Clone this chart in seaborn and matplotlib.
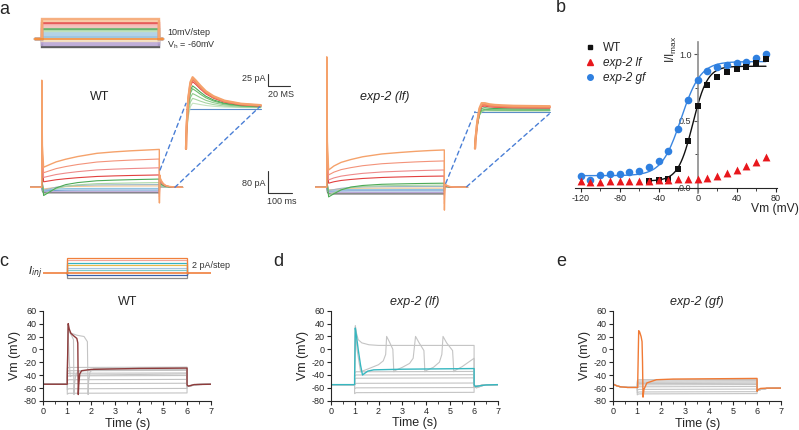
import numpy as np
import pandas as pd
import matplotlib
matplotlib.use("Agg")
import matplotlib.pyplot as plt
import seaborn as sns
from matplotlib.patches import ConnectionPatch
from matplotlib.lines import Line2D

sns.set_theme(style="ticks")
plt.rcParams["font.family"] = ["Liberation Sans", "DejaVu Sans"]
plt.rcParams["axes.linewidth"] = 0.8
plt.rcParams["axes.unicode_minus"] = False

# ------------------------------------------------------------------ data
# ---- panel a : voltage-clamp families (pA, ms) ----
STEP_END = 490
STEP_T = [8, 30, 60, 100, 150, 230, 300, 370, 430, 490]
WT_RISE = [0, 0.13, 0.30, 0.45, 0.60, 0.78, 0.86, 0.92, 0.96, 1.0]
LF_RISE = [0, 0.20, 0.38, 0.52, 0.66, 0.80, 0.87, 0.93, 0.97, 1.0]
DIP_SHAPE = [1.0, 0.75, 0.40, 0.15, 0.05, 0, 0, 0, 0, 0]
TAIL_T = [2, 4, 10, 17, 27, 42, 62, 97]
TAIL_SHAPE = [1, 0.75, 0.5, 0.3, 0.15, 0.07, 0.03, 0]

A_COLORS = ["#F5A26B", "#F3937A", "#EE8A8A", "#E2403F", "#4DAA57", "#A8D5A2",
            "#9DB8C9", "#F2C48D", "#8EC1E0", "#6E9BD1", "#B7A3D3", "#4D4D4D"]
WT_START = [73, 53, 36, 20, 2, 0, 4, 2, -4, -10, -16, -20]
WT_END = [138, 103, 71, 45, 30, 17, 10, 5, -4, -10, -16, -20]
WT_DIP = [0, 0, 0, 0, -32, -26, -14, -8, -6, -3, 0, 0]
WT_SPIKE = [390, 330, 280, 230, 60, 40, 30, 20, 10, 0, 0, 0]
WT_OFF = [-57, -45, -35, -25, -15, -8, -5, -3, 0, 0, 0, 0]
WT_TAIL = [45, 40, 36, 32, 20, 12, 6, 3, 0, 0, 0, 0]

LF_START = [63, 45, 27, 15, -5, -3, 0, -2, -6, -12, -18, -24]
LF_END = [136, 96, 63, 41, 15, 8, 3, -3, -8, -13, -19, -24]
LF_DIP = [0, 0, 0, 0, -30, -25, -12, -8, -4, -2, 0, 0]
LF_SPIKE = [475, 400, 330, 260, 60, 40, 30, 20, 10, 0, 0, 0]
LF_OFF = [-83, -60, -45, -30, -15, -8, -5, -3, 0, 0, 0, 0]
LF_TAIL = [15, 12, 10, 8, 5, 3, 2, 1, 0, 0, 0, 0]

# zoomed tail currents (insets)
IN_T = [0, 0.5, 2, 4, 6, 9, 13, 18, 25, 35, 50, 68]
WT_IN_ONSET = [1, 0.7, 0.3, 0.08, 0, 0, 0, 0, 0, 0, 0, 0]
WT_IN_DECAY = [0, 0.3, 0.7, 0.95, 1.0, 0.88, 0.7, 0.5, 0.32, 0.16, 0.05, 0]
LF_IN_ONSET = [1, 0.8, 0.45, 0.15, 0.03, 0, 0, 0, 0, 0, 0, 0]
LF_IN_DECAY = [0, 0.3, 0.7, 0.95, 1.0, 0.7, 0.45, 0.3, 0.2, 0.1, 0.05, 0]
IN_COLORS = ["#F5A26B", "#F08060", "#E2403F", "#4DAA57", "#6DBB6D", "#8FCB8B",
             "#A8D5A2", "#C5E3BF", "#5B8DC8"]
WT_IN_START = [-85, -85, -85, -85, -85, -85, -85, -85, -3]
WT_IN_PEAK = [64, 60, 55, 46, 40, 30, 20, 10, -3]
WT_IN_FINAL = [6, 5, 4, 3, 2.5, 2, 1, 0.5, -3]
LF_IN_START = [-78, -78, -78, -78, -72, -70, -68, -65, -1.5]
LF_IN_PEAK = [19, 15, 12, 8, 4, 2, 1, 0.5, -1.5]
LF_IN_FINAL = [10, 8, 6, 4, 2, 1, 0.5, 0.3, -1.5]

# voltage protocol (mV)
V_HOLD = -60
V_LEVELS = [40, 30, 20, 10, 0, -10, -20, -30, -40, -50, -70, -80, -90, -100]
V_COLORS = ["#F5A26B", "#F8C9A0", "#E2403F", "#F4B3AE", "#F2BDB8", "#4DAA57",
            "#B9DDB2", "#A9CDE3", "#A9CDE3", "#8DBBDA", "#F3DDB8", "#B7A3D3",
            "#B7A3D3", "#404040"]

# ---- panel b : normalised activation ----
IV_MV = [-120, -110, -100, -90, -80, -70, -60, -50, -40, -30, -20, -10,
         0, 10, 20, 30, 40, 50, 60, 70]
GF_I = [0.088, 0.058, 0.093, 0.100, 0.105, 0.115, 0.127, 0.157, 0.198, 0.275,
        0.44, 0.657, 0.807, 0.872, 0.907, 0.922, 0.932, 0.945, 0.972, 1.0]
LF_I = [0.05, 0.045, 0.045, 0.05, 0.05, 0.053, 0.053, 0.053, 0.058, 0.058,
        0.063, 0.065, 0.065, 0.07, 0.088, 0.108, 0.133, 0.165, 0.195, 0.232]
WT_MV = [-50, -40, -30, -20, -10, 0, 10, 20, 30, 40, 50, 60, 70]
WT_I = [0.053, 0.058, 0.063, 0.138, 0.35, 0.61, 0.77, 0.832, 0.865, 0.89,
        0.905, 0.932, 0.962]
GF_FIT = [0.09, 0.945, -17, 10]     # bottom, top, V1/2, slope
WT_FIT = [0.05, 0.91, -5, 7.5]

# ---- panels c-e : current clamp (s, mV) ----
C_PROTO_LEVELS = [12, 10, 8, 6, 4, 2, -2, -4]
C_PROTO_COLORS = ["#F0803C", "#F2A59B", "#35B3C1", "#E9B949", "#A6C6E0",
                  "#7FCACA", "#3A5FA8", "#8C8C8C"]

C_REST = -54
C_GREY_LEVELS = [-28, -33, -37, -41, -47, -53, -61, -68]
C_G1_T = [0, 1.0, 1.0, 1.03, 1.08, 1.2, 1.26, 1.28, 1.30, 1.35, 1.45, 2.0, 6.0, 6.0, 6.1, 6.4, 7.0]
C_G1_V = [-54, -54, -45, 38, 28, 20, 15, -70, -55, -40, -34, -32, -31, -56, -57, -54.5, -54]
C_G2_T = [0, 1.0, 1.0, 1.03, 1.1, 1.4, 1.7, 1.84, 1.87, 1.89, 1.95, 2.1, 6.0, 6.0, 6.1, 6.4, 7.0]
C_G2_V = [-54, -54, -45, 36, 26, 22, 20, 12, -70, -50, -35, -30, -28, -56, -57, -54.5, -54]
C_G3_T = [0, 1.0, 1.0, 1.03, 1.08, 1.12, 1.2, 6.0, 6.0, 6.1, 6.4, 7.0]
C_G3_V = [-54, -54, -45, 30, -15, -42, -40, -38, -56, -57, -54.5, -54]
C_RED_T = [0, 1.0, 1.0, 1.04, 1.08, 1.15, 1.3, 1.4, 1.44, 1.46, 1.48, 1.52, 1.6, 2.0, 4.0, 6.0, 6.0, 6.05, 6.3, 7.0]
C_RED_V = [-54, -54, -45, 40, 32, 25, 20, 17, 10, -70, -55, -38, -33, -31, -29.5, -29, -55, -57, -54.5, -54]

D_REST = -55
D_GREY_LEVELS = [-35, -40, -45, -53, -60, -67.5]
D_TOP_T = [0, 1.0, 1.0, 1.03, 1.08, 1.15, 1.3, 1.6, 2.0, 6.0, 6.0, 6.1, 6.4, 7.0]
D_TOP_V = [-55, -55, -45, 37, 25, 15, 10, 7, 6, 6, -58, -60, -56, -55]
D_REP_T = [0, 1.0, 1.0, 1.03, 1.1, 1.25, 1.6, 2.0, 2.2, 2.3, 2.34, 2.45, 2.6, 2.64,
           2.7, 3.0, 3.3, 3.45, 3.55, 3.7, 3.9, 3.94, 4.0, 4.3, 4.55, 4.65, 4.7,
           4.85, 5.1, 5.15, 5.2, 5.5, 6.0, 6.0, 6.1, 6.4, 7.0]
D_REP_V = [-55, -55, -45, 35, 0, -35, -30, -24, -18, -8, 20, 12, 0, -35,
           -33, -28, -22, -14, 20, 10, -2, -35, -33, -28, -20, -8, 20,
           10, -2, -35, -33, -27, -14, -58, -60, -56, -55]
D_TEAL_T = [0, 1.0, 1.0, 1.03, 1.08, 1.15, 1.25, 1.33, 1.4, 1.55, 1.8, 3.0, 6.0, 6.0, 6.05, 6.2, 6.5, 7.0]
D_TEAL_V = [-55, -55, -45, 33, 20, 0, -25, -40, -38, -34, -32, -31, -30, -55, -58, -57, -55.5, -55]

E_PRE_T = [0, 0.15, 0.3, 0.6, 1.0]
E_PRE_V = [-54, -56.5, -58, -59, -59]
E_REST_AFTER = -60
E_GREY_LEVELS = [-47, -49, -51, -53, -55, -58, -62, -66, -69]
E_OR_T = [0, 0.15, 0.3, 0.6, 1.02, 1.02, 1.06, 1.1, 1.16, 1.2, 1.22, 1.24, 1.28, 1.4, 1.8, 2.5, 6.0, 6.0, 6.05, 6.15, 6.4, 7.0]
E_OR_V = [-54, -56.5, -58, -59, -59, -50, 29, 27, 20, 12, -20, -74, -62, -52, -47, -46, -45, -65, -62, -60.5, -60, -60]

# ------------------------------------------------------------------ figure
W, H = 799, 430
fig = plt.figure(figsize=(W / 100, H / 100), dpi=100)


def add_ax(x0, y0, x1, y1):
    return fig.add_axes([x0 / W, 1 - y1 / H, (x1 - x0) / W, (y1 - y0) / H])


def ftext(x, y, s, **kw):
    fig.text(x / W, 1 - y / H, s, **kw)


def a_trace(start, end, dip, spike, off, tail, rise):
    t = [-50, 0, 0.4, 3]
    v = [0, 0, spike, start + 0.25 * (spike - start)]
    for tt, r, d in zip(STEP_T, rise, DIP_SHAPE):
        t.append(tt)
        v.append(start + (end - start) * r + dip * d)
    t.append(STEP_END + 0.5)
    v.append(off)
    for dt, s in zip(TAIL_T, TAIL_SHAPE):
        t.append(STEP_END + dt)
        v.append(tail * s)
    return t, v


def in_trace(start, peak, final, onset, decay):
    return IN_T, [start * o + final * (1 - o) + (peak - final) * d
                  for o, d in zip(onset, decay)]


GREY = "#C4C4C4"
DASH = "#4A7FD6"

# ---- panel a : protocol
ax_p = add_ax(29.7, 14, 185.7, 52)
ax_p.set_xlim(-50, 600)
ax_p.set_ylim(-125, 65)
ax_p.axis("off")
for lev, col in list(zip(V_LEVELS, V_COLORS))[::-1]:
    ax_p.plot([-30, 0, 0, STEP_END, STEP_END, 505],
              [V_HOLD, V_HOLD, lev, lev, V_HOLD, V_HOLD], color=col, lw=1.7, alpha=0.85,
              solid_joinstyle="miter")
ax_p.plot([-30, 505], [V_HOLD, V_HOLD], color="#F28C38", lw=1.2)
ftext(167, 32.3, "10mV/step", fontsize=6.5, va="center", ha="left", color="#333333")
ftext(167, 45, r"V$_\mathregular{h}$ = -60mV", fontsize=6.5, va="center", ha="left", color="#333333")

# ---- panel a : main WT / lf traces
ax_wt = add_ax(29.7, 70, 185.7, 210)
ax_wt.set_xlim(-50, 600)
ax_wt.set_ylim(-82.6, 427)
ax_lf = add_ax(314.7, 50, 470.7, 215)
ax_lf.set_xlim(-50, 600)
ax_lf.set_ylim(-100.8, 499.8)
for ax, S, E, D, SP, OF, TL, RISE in [
        (ax_wt, WT_START, WT_END, WT_DIP, WT_SPIKE, WT_OFF, WT_TAIL, WT_RISE),
        (ax_lf, LF_START, LF_END, LF_DIP, LF_SPIKE, LF_OFF, LF_TAIL, LF_RISE)]:
    ax.axis("off")
    for i in range(len(S) - 1, -1, -1):
        t, v = a_trace(S[i], E[i], D[i], SP[i], OF[i], TL[i], RISE)
        ax.plot(t, v, color=A_COLORS[i], lw=1.0 if i == 0 else 0.8)

ftext(100, 97.3, "WT", fontsize=9, ha="center", va="center", color="#222222")
ftext(385, 96.7, "exp-2 (lf)", fontsize=9, ha="center", va="center", style="italic", color="#222222")

# scale bar 80 pA / 100 ms
ax_wt.plot([942, 942, 1042], [60, -20, -20], color="#333333", lw=0.8, clip_on=False)
ftext(266, 183.3, "80 pA", fontsize=6.5, ha="right", va="center", color="#333333")
ftext(267, 201, "100 ms", fontsize=6.5, ha="left", va="center", color="#333333")

# ---- panel a : insets
ax_wi = add_ax(184, 70, 262, 152)
ax_wi.set_xlim(-1.82, 69.09)
ax_wi.set_ylim(-91.5, 79)
ax_li = add_ax(472, 95, 552, 152)
ax_li.set_xlim(-2.73, 70)
ax_li.set_ylim(-85.3, 33.3)
for ax, ST, PK, FN, ON, DC in [
        (ax_wi, WT_IN_START, WT_IN_PEAK, WT_IN_FINAL, WT_IN_ONSET, WT_IN_DECAY),
        (ax_li, LF_IN_START, LF_IN_PEAK, LF_IN_FINAL, LF_IN_ONSET, LF_IN_DECAY)]:
    ax.axis("off")
    for i in range(len(ST) - 1, -1, -1):
        t, v = in_trace(ST[i], PK[i], FN[i], ON, DC)
        ax.plot(t, v, color=IN_COLORS[i], lw=1.6 if i < 2 else 0.8)

ax_wi.plot([74.3, 74.3, 94.3], [70.8, 45.8, 45.8], color="#333333", lw=0.8, clip_on=False)
ftext(266, 78.7, "25 pA", fontsize=6.5, ha="right", va="center", color="#333333")
ftext(268, 94.3, "20 MS", fontsize=6.5, ha="left", va="center", color="#333333")

for axA, xyA, axB, xyB in [(ax_wt, (493, 63), ax_wi, (0, 9.8)),
                           (ax_wt, (555, 0), ax_wi, (67, 2.7)),
                           (ax_lf, (496, 14.6), ax_li, (0, -1.5)),
                           (ax_lf, (583, 2), ax_li, (67.5, -6))]:
    con = ConnectionPatch(xyA=xyA, coordsA=axA.transData, xyB=xyB, coordsB=axB.transData,
                          color=DASH, lw=1.0, ls=(0, (3, 2.5)))
    fig.add_artist(con)

# ---- panel b
ax_b = add_ax(575, 41.7, 777, 193)
x_fit_gf = np.linspace(-120, 70, 200)
x_fit_wt = np.linspace(-50, 70, 150)


def boltz(v, p):
    return p[0] + (p[1] - p[0]) / (1 + np.exp((p[2] - v) / p[3]))


fit_df = pd.concat([
    pd.DataFrame({"Vm": x_fit_gf, "I": boltz(x_fit_gf, GF_FIT), "g": "gf"}),
    pd.DataFrame({"Vm": x_fit_wt, "I": boltz(x_fit_wt, WT_FIT), "g": "wt"})])
sns.lineplot(data=fit_df, x="Vm", y="I", hue="g", palette={"gf": "#3A86E0", "wt": "#111111"},
             estimator=None, sort=False, lw=1.0, legend=False, ax=ax_b)
sns.scatterplot(x=IV_MV, y=GF_I, color="#2F80E0", marker="o", s=30, linewidth=0, ax=ax_b, zorder=3)
sns.scatterplot(x=WT_MV, y=WT_I, color="#111111", marker="s", s=20, linewidth=0, ax=ax_b, zorder=4)
sns.scatterplot(x=IV_MV, y=LF_I, color="#E8171C", marker="^", s=32, linewidth=0, ax=ax_b, zorder=5)
ax_b.set_xlim(-125.8, 81.3)
ax_b.set_ylim(-0.04, 1.094)
ax_b.spines["left"].set_position(("data", 0))
ax_b.spines["bottom"].set_position(("data", 0))
ax_b.spines["top"].set_visible(False)
ax_b.spines["right"].set_visible(False)
ax_b.spines["left"].set_color("#8C8C8C")
ax_b.spines["left"].set_linewidth(1.2)
ax_b.set_xticks([-120, -80, -40, 0, 40, 80])
ax_b.set_xticks([-100, -60, -20, 20, 60], minor=True)
ax_b.set_yticks([0, 0.5, 1.0])
ax_b.set_yticklabels(["0.0", "0.5", "1.0"])
ax_b.set_yticks([0.25, 0.75], minor=True)
ax_b.tick_params(labelsize=6.5, length=3, width=0.8, pad=1.5, direction="out")
ax_b.tick_params(which="minor", length=2, width=0.6)
ax_b.tick_params(axis="y", colors="#555555", labelcolor="#333333")
ax_b.set_xlabel("")
ax_b.set_ylabel("")
ftext(775, 209, "Vm (mV)", fontsize=8.7, ha="center", va="center")
ftext(671, 49, r"I/I$_\mathregular{max}$", fontsize=8.5, ha="center", va="center", rotation=90)
handles = [Line2D([], [], ls="", marker="s", color="#111111", ms=3.5),
           Line2D([], [], ls="", marker="^", color="#E8171C", ms=4),
           Line2D([], [], ls="", marker="o", color="#2F80E0", ms=4)]
leg = fig.legend(handles, ["WT", "exp-2 lf", "exp-2 gf"], loc="upper left",
                 bbox_to_anchor=(578 / W, 1 - 36 / H), frameon=False, fontsize=8.5,
                 handlelength=1.0, handletextpad=0.6, labelspacing=0.25, borderpad=0)
for txt in leg.get_texts()[1:]:
    txt.set_style("italic")


# ---- panels c-e
def style_vm(ax, title, italic=False):
    ax.set_xlim(0, 7)
    ax.set_ylim(-80, 60)
    ax.set_xticks(range(0, 8))
    ax.set_xticks(np.arange(0, 7.01, 0.5), minor=True)
    ax.set_yticks(range(-80, 61, 20))
    ax.tick_params(labelsize=6.5, length=3, width=0.8, pad=1.5, direction="out")
    ax.tick_params(which="minor", length=2, width=0.6)
    ax.set_xlabel("Time (s)", fontsize=9, labelpad=1)
    ax.set_ylabel("Vm (mV)", fontsize=9, labelpad=2)
    ax.set_title(title, fontsize=9, pad=4, style="italic" if italic else "normal")
    sns.despine(ax=ax)


def plateau(level, rest, rest_after, pre_t=None, pre_v=None):
    t0 = pre_t if pre_t is not None else [0, 1.0]
    v0 = pre_v if pre_v is not None else [rest, rest]
    t = list(t0) + [1.0, 1.06, 6.0, 6.0, 6.1, 6.4, 7.0]
    v = list(v0) + [level - 1.5, level, level + 0.5, rest_after - 3, rest_after - 2.5,
                    rest_after - 0.5, rest_after]
    return t, v


ax_c = add_ax(43.3, 310.7, 211, 401)
for lev in C_GREY_LEVELS:
    ax_c.plot(*plateau(lev, C_REST, C_REST), color=GREY, lw=0.8)
for T, V in [(C_G1_T, C_G1_V), (C_G2_T, C_G2_V), (C_G3_T, C_G3_V)]:
    ax_c.plot(T, V, color=GREY, lw=0.8)
ax_c.plot(C_RED_T, C_RED_V, color="#8E3B3B", lw=1.0)
style_vm(ax_c, "WT")

ax_cp = add_ax(43.3, 255, 211, 280)
ax_cp.set_xlim(0, 7)
ax_cp.set_ylim(-5.8, 14.2)
ax_cp.axis("off")
for lev, col in list(zip(C_PROTO_LEVELS, C_PROTO_COLORS))[::-1]:
    ax_cp.plot([0.95, 1.0, 1.0, 6.0, 6.0, 6.05], [0, 0, lev, lev, 0, 0], color=col, lw=0.9,
               solid_joinstyle="miter")
ax_cp.plot([0, 7], [0, 0], color="#F07F3C", lw=1.2)
ftext(35, 272.7, r"$I_{inj}$", fontsize=8, ha="center", va="center")
ftext(191.7, 266, "2 pA/step", fontsize=6.5, ha="left", va="center", color="#333333")

ax_d = add_ax(330.7, 310.7, 498, 400.7)
for lev in D_GREY_LEVELS:
    ax_d.plot(*plateau(lev, D_REST, D_REST), color=GREY, lw=0.8)
for T, V in [(D_TOP_T, D_TOP_V), (D_REP_T, D_REP_V)]:
    ax_d.plot(T, V, color=GREY, lw=0.8)
ax_d.plot(D_TEAL_T, D_TEAL_V, color="#36B7C0", lw=1.0)
style_vm(ax_d, "exp-2 (lf)", italic=True)

ax_e = add_ax(613.3, 310.7, 781, 401)
for lev in E_GREY_LEVELS:
    ax_e.plot(*plateau(lev, E_PRE_V[-1], E_REST_AFTER, E_PRE_T, E_PRE_V), color=GREY, lw=0.8)
ax_e.plot(E_OR_T, E_OR_V, color="#F07A35", lw=1.0)
style_vm(ax_e, "exp-2 (gf)", italic=True)

# panel letters
for x, y, s in [(4, 9, "a"), (561, 8, "b"), (4, 261, "c"), (278, 261, "d"), (561, 261, "e")]:
    ftext(x, y, s, fontsize=13, ha="center", va="center")

fig.savefig("out.png", dpi=100)
